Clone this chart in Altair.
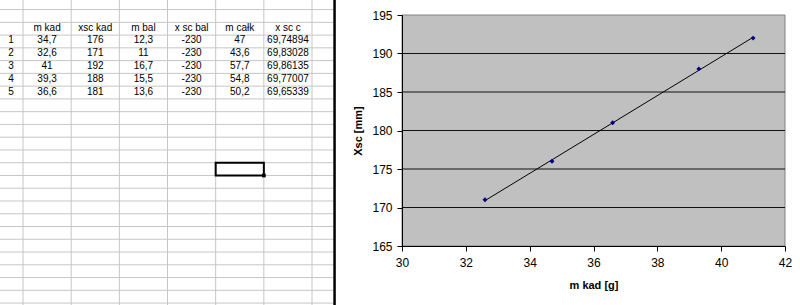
import altair as alt
import pandas as pd

# ---------------- data ----------------
headers = ["m kad", "xsc kad", "m bal", "x sc bal", "m całk", "x sc c"]
row_numbers = ["1", "2", "3", "4", "5"]
m_kad = [34.7, 32.6, 41, 39.3, 36.6]
xsc_kad = [176, 171, 192, 188, 181]
m_bal = [12.3, 11, 16.7, 15.5, 13.6]
x_sc_bal = [-230, -230, -230, -230, -230]
m_calk = [47, 43.6, 57.7, 54.8, 50.2]
x_sc_c = [69.74894, 69.83028, 69.86135, 69.77007, 69.65339]

x_ticks = [30, 32, 34, 36, 38, 40, 42]
y_ticks = [165, 170, 175, 180, 185, 190, 195]
y_grid = [170, 175, 180, 185, 190]

# spreadsheet layout (in cell units)
col_edges = [0, 1, 2, 3, 4, 5, 6]
row_edges = list(range(0, 24))
selected_cell = {"c": 4, "r": 12}

FONT = "Liberation Sans"

# plot-area placement inside the 800x305 canvas
PL, PT, PW, PH = 402, 15, 383, 231


def fmt(v):
    if float(v).is_integer():
        return str(int(v))
    return str(v).replace(".", ",")


columns = [m_kad, xsc_kad, m_bal, x_sc_bal, m_calk, x_sc_c]
cells = []
for ci, h in enumerate(headers):
    cells.append({"t": h, "c": ci + 0.5, "r": 1.5})
for ri, rn in enumerate(row_numbers):
    cells.append({"t": rn, "c": -0.25, "r": ri + 2.5})
    for ci, col in enumerate(columns):
        cells.append({"t": fmt(col[ri]), "c": ci + 0.5, "r": ri + 2.5})
cells_df = pd.DataFrame(cells)

# table scales map to the area left of the plot (negative offsets from plot origin)
tx = alt.Scale(domain=[-0.4775, 6.498], range=[0 - PL, 336 - PL], nice=False, zero=False)
ty = alt.Scale(domain=[-0.75, 23.15], range=[0 - PT, 305 - PT], nice=False, zero=False)

hrules = alt.Chart(pd.DataFrame({"r": row_edges})).mark_rule(
    color="#c6c6c6", strokeWidth=1
).encode(
    y=alt.Y("r:Q", scale=ty, axis=None),
    x=alt.X(datum=-0.4775, scale=tx, axis=None),
    x2=alt.datum(6.45),
)
vrules = alt.Chart(pd.DataFrame({"c": col_edges})).mark_rule(
    color="#c6c6c6", strokeWidth=1
).encode(
    x=alt.X("c:Q", scale=tx, axis=None),
    y=alt.Y(datum=-0.75, scale=ty, axis=None),
    y2=alt.datum(23.15),
)
texts = alt.Chart(cells_df).mark_text(
    font=FONT, fontSize=10, color="black", baseline="middle", align="center", dy=-1
).encode(
    x=alt.X("c:Q", scale=tx, axis=None),
    y=alt.Y("r:Q", scale=ty, axis=None),
    text="t:N",
)
sel_df = pd.DataFrame([{"c": selected_cell["c"], "c2": selected_cell["c"] + 1,
                        "r": selected_cell["r"], "r2": selected_cell["r"] + 1}])
sel = alt.Chart(sel_df).mark_rect(fillOpacity=0, stroke="black", strokeWidth=2).encode(
    x=alt.X("c:Q", scale=tx, axis=None), x2="c2:Q",
    y=alt.Y("r:Q", scale=ty, axis=None), y2="r2:Q",
)
handle = alt.Chart(sel_df).mark_square(size=14, color="black", opacity=1).encode(
    x=alt.X("c2:Q", scale=tx, axis=None),
    y=alt.Y("r2:Q", scale=ty, axis=None),
)
border = alt.Chart(pd.DataFrame({"a": [0]})).mark_rule(color="black", strokeWidth=2.5).encode(
    x=alt.X(datum=6.468, scale=tx, axis=None),
    y=alt.Y(datum=-0.75, scale=ty, axis=None),
    y2=alt.datum(23.15),
)
table = alt.layer(hrules, vrules, texts, sel, handle, border)

# ---------------- scatter chart ----------------
sx = alt.Scale(domain=[x_ticks[0], x_ticks[-1]], range=[0, PW], nice=False, zero=False)
sy = alt.Scale(domain=[y_ticks[0], y_ticks[-1]], range=[PH, 0], nice=False, zero=False)

xaxis = alt.Axis(
    orient="bottom", values=x_ticks, title="m kad [g]",
    labelFont=FONT, labelFontSize=12, labelColor="black", labelPadding=6,
    titleFont=FONT, titleFontSize=11, titleFontWeight="bold", titleColor="black",
    titlePadding=11, tickSize=5, tickColor="black", domainColor="black",
    grid=False, zindex=1, labelFlush=False, labelOverlap=False)
yaxis = alt.Axis(
    orient="left", values=y_ticks, title="Xsc [mm]",
    labelFont=FONT, labelFontSize=12, labelColor="black", labelPadding=5,
    titleFont=FONT, titleFontSize=11, titleFontWeight="bold", titleColor="black",
    titlePadding=8, tickSize=5, tickColor="black", domainColor="black",
    grid=False, zindex=1, labelFlush=False, labelOverlap=False)

pts = pd.DataFrame({"m": m_kad, "x": xsc_kad})

bg = alt.Chart(pd.DataFrame({"a": [0]})).mark_rect(
    fill="#c0c0c0", stroke="#808080", strokeWidth=1
).encode(
    x=alt.X(datum=x_ticks[0], scale=sx, axis=xaxis), x2=alt.datum(x_ticks[-1]),
    y=alt.Y(datum=y_ticks[0], scale=sy, axis=yaxis), y2=alt.datum(y_ticks[-1]),
)
grid = alt.Chart(pd.DataFrame({"v": y_grid})).mark_rule(color="#111111", strokeWidth=1).encode(
    y=alt.Y("v:Q", scale=sy, axis=yaxis),
    x=alt.X(datum=x_ticks[0], scale=sx, axis=xaxis), x2=alt.datum(x_ticks[-1]),
)
trend = alt.Chart(pts).transform_regression("m", "x").mark_line(
    color="black", strokeWidth=1
).encode(
    x=alt.X("m:Q", scale=sx, axis=xaxis),
    y=alt.Y("x:Q", scale=sy, axis=yaxis),
)
points = alt.Chart(pts).mark_point(
    shape="diamond", filled=True, size=24, color="#000080", opacity=1
).encode(
    x=alt.X("m:Q", scale=sx, axis=xaxis),
    y=alt.Y("x:Q", scale=sy, axis=yaxis),
)
scatter = alt.layer(bg, grid, trend, points)

chart = alt.layer(table, scatter).resolve_scale(
    x="independent", y="independent"
).properties(
    width=PW, height=PH,
    padding={"left": PL, "top": PT, "right": 800 - PL - PW, "bottom": 305 - PT - PH},
    autosize=alt.AutoSizeParams(type="none"),
    background="white",
).configure_view(strokeWidth=0)

chart.save("out.html", embed_options={"renderer": "svg", "actions": False})
